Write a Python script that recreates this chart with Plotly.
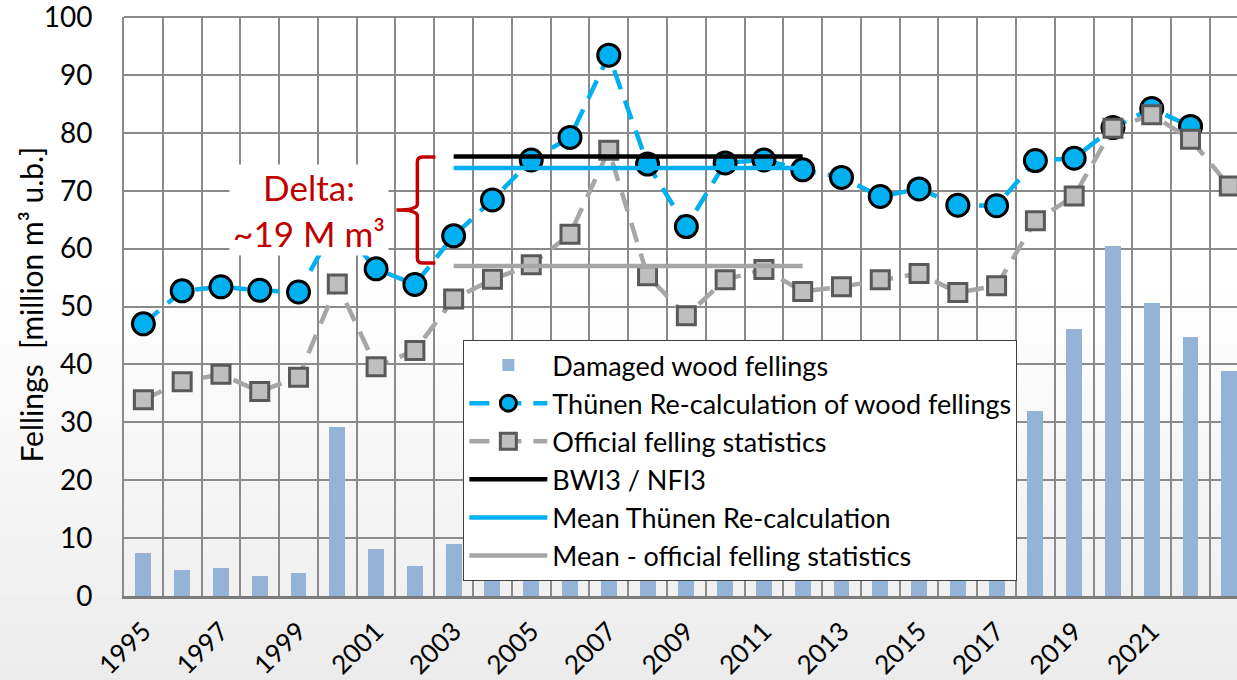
import plotly.graph_objects as go

years = list(range(1995, 2024))
damaged = [7.5, 4.5, 4.9, 3.5, 4.0, 29.2, 8.1, 5.2, 9.0, 8.0, 7.5, 7.0, 24.0, 16.0, 8.0,
           7.5, 7.0, 6.5, 6.0, 5.5, 7.0, 6.0, 8.0, 32.0, 46.2, 60.4, 50.6, 44.7, 38.9]
thuenen = [47.0, 52.7, 53.4, 52.8, 52.5, 64.5, 56.5, 53.8, 62.2, 68.4, 75.3, 79.2, 93.4, 74.6, 63.8,
           74.8, 75.3, 73.6, 72.3, 69.0, 70.3, 67.5, 67.4, 75.2, 75.6, 80.9, 84.2, 81.1, None]
official = [33.9, 37.0, 38.3, 35.3, 37.8, 53.9, 39.6, 42.4, 51.3, 54.7, 57.2, 62.5, 77.0, 55.3, 48.4,
            54.6, 56.4, 52.6, 53.4, 54.6, 55.7, 52.4, 53.6, 64.8, 69.1, 80.8, 83.1, 78.9, 70.8]
mean_years = [2003, 2012]
bwi3 = [75.9, 75.9]
mean_thuenen = [73.9, 73.9]
mean_official = [57.0, 57.0]
tick_years = list(range(1995, 2022, 2))
tick_labels = [str(y) for y in tick_years]
y_title = "Fellings  [million m³ u.b.]"

FONT = "Lato"
BLUE = "#00B0F0"
GRID = "#8a8a8a"
W, H = 1237, 680
PL, PT, PB = 123.5, 17, 596     # plot area in page pixels
SPACING = 38.8

fig = go.Figure()
fig.add_trace(go.Bar(x=years, y=damaged, width=0.41, marker=dict(color="#95B3D7", line=dict(width=0)),
                     name="Damaged wood fellings", legendgroup="a"))
fig.add_trace(go.Scatter(x=years, y=thuenen, mode="lines+markers", name="Thünen Re-calculation of wood fellings",
                         line=dict(color=BLUE, width=4.5, dash="20px,12px"),
                         marker=dict(symbol="circle", size=22, color=BLUE, line=dict(color="black", width=3)),
                         legendgroup="b", cliponaxis=False))
fig.add_trace(go.Scatter(x=years, y=official, mode="lines+markers", name="Official felling statistics",
                         line=dict(color="#A6A6A6", width=4.5, dash="20px,12px"),
                         marker=dict(symbol="square", size=18, color="#BFBFBF", line=dict(color="#595959", width=3)),
                         legendgroup="c", cliponaxis=False))
fig.add_trace(go.Scatter(x=mean_years, y=bwi3, mode="lines", name="BWI3 / NFI3",
                         line=dict(color="black", width=4.5), legendgroup="d"))
fig.add_trace(go.Scatter(x=mean_years, y=mean_thuenen, mode="lines", name="Mean Thünen Re-calculation",
                         line=dict(color=BLUE, width=4.5), legendgroup="e"))
fig.add_trace(go.Scatter(x=mean_years, y=mean_official, mode="lines", name="Mean - official felling statistics",
                         line=dict(color="#A6A6A6", width=4.5), legendgroup="f"))

# background gradient (paper coords): white -> light grey toward bottom
shapes = []
n = 30
top_px, bot_px = 280, 690
for i in range(n):
    p0 = top_px + (bot_px - top_px) * i / n
    p1 = top_px + (bot_px - top_px) * (i + 1) / n
    t = (i + 0.5) / n
    c = int(round(255 - (255 - 235) * t))
    shapes.append(dict(type="rect", xref="paper", yref="paper", layer="below",
                       x0=-0.2, x1=1.1,
                       y0=(PB - p1) / (PB - PT), y1=(PB - p0) / (PB - PT),
                       fillcolor=f"rgb({c},{c},{c})", line=dict(width=0)))
# top border of the plot area (gridline at 100)
shapes.append(dict(type="line", xref="paper", yref="paper", x0=0, x1=1, y0=1, y1=1, layer="below",
                   line=dict(color=GRID, width=2.2)))

# red brace (designed in page pixels, converted to data coordinates)
def px2x(px):
    return 1995 + (px - (PL + SPACING / 2)) / SPACING
def py2y(py):
    return (PB - py) / ((PB - PT) / 100)
pts = [("M", 435, 157), ("L", 422, 157), ("Q", 417, 157, 417, 162), ("L", 417, 204),
       ("Q", 417, 210, 396, 210), ("Q", 417, 210, 417, 216), ("L", 417, 258),
       ("Q", 417, 263, 422, 263), ("L", 435, 263)]
path = ""
for p in pts:
    coords = p[1:]
    s = [f"{px2x(coords[k]):.4f},{py2y(coords[k+1]):.4f}" for k in range(0, len(coords), 2)]
    path += p[0] + " ".join(s) + " "
shapes.append(dict(type="path", xref="x", yref="y", path=path.strip(), layer="above",
                   line=dict(color="#C00000", width=3.5)))

fig.update_layout(
    width=W, height=H,
    margin=dict(l=PL, r=0, t=PT, b=H - PB),
    paper_bgcolor="white", plot_bgcolor="rgba(0,0,0,0)",
    font=dict(family=FONT, color="black", size=24),
    shapes=shapes,
    showlegend=True,
    legend=dict(x=(463 - PL) / (W - PL), y=(PB - 340) / (PB - PT), xanchor="left", yanchor="top",
                bgcolor="white", bordercolor="#3f3f3f", borderwidth=1,
                font=dict(family=FONT, size=27, color="black"), tracegroupgap=7,
                itemwidth=78, traceorder="normal"),
    bargap=0,
    annotations=[
        dict(x=px2x(309), y=py2y(210), xref="x", yref="y", text="Delta:<br>~19 M m³",
             showarrow=False, font=dict(family=FONT, size=35, color="#C00000"),
             bgcolor="white", width=158, height=90, borderpad=0),
        dict(x=(30 - PL) / (W - PL), y=(PB - 305) / (PB - PT), xref="paper", yref="paper",
             text=y_title, textangle=-90, showarrow=False, xanchor="center", yanchor="middle",
             font=dict(family=FONT, size=30, color="black")),
    ],
)
fig.update_xaxes(range=[1994.5, 1994.5 + (W - PL) / SPACING], tickmode="array", tickvals=tick_years,
                 ticktext=tick_labels, tickangle=-45, tickfont=dict(family=FONT, size=26),
                 ticks="outside", ticklen=7, tickcolor="rgba(0,0,0,0)", automargin=False,
                 showgrid=False, zeroline=False, showline=True, linecolor="#7a7a7a", linewidth=2.5,
                 minor=dict(tick0=1994.5, dtick=1, showgrid=True, gridcolor=GRID, gridwidth=1.6, ticks=""))
fig.update_yaxes(range=[0, 100], dtick=10, showgrid=True, gridcolor=GRID, gridwidth=1.6,
                 zeroline=False, showline=True, linecolor=GRID, linewidth=1.6,
                 ticks="outside", ticklen=24, tickcolor="rgba(0,0,0,0)", automargin=False,
                 ticklabeloverflow="allow",
                 tickfont=dict(family=FONT, size=28))

fig.write_html("out.html", config={"displayModeBar": False},
               post_script="document.body.style.margin='0';document.body.style.overflow='hidden';")
